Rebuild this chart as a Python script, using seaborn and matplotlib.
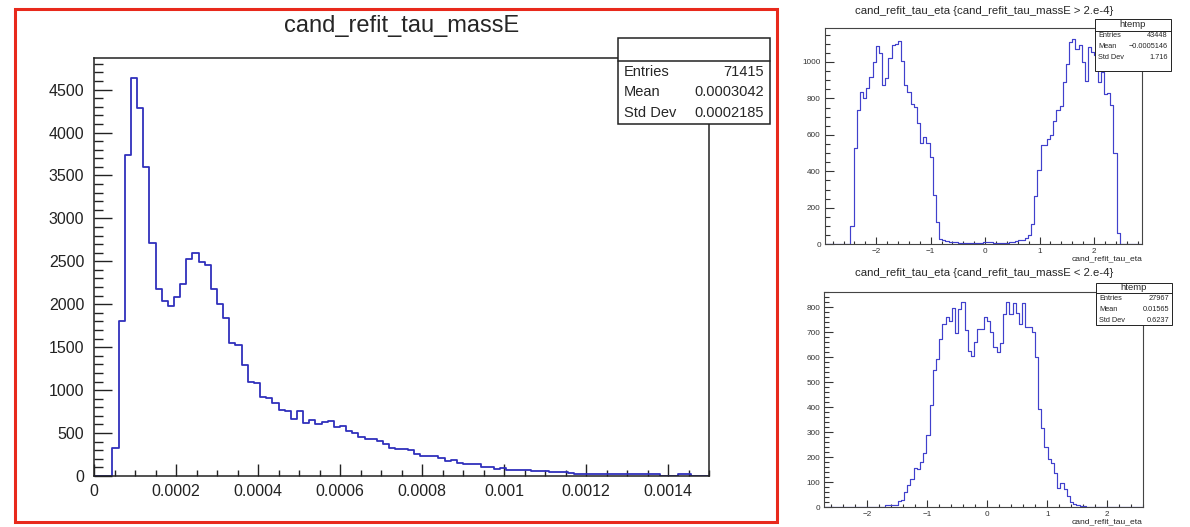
import numpy as np
import pandas as pd
import matplotlib
matplotlib.use("Agg")
import matplotlib.pyplot as plt
from matplotlib.patches import Rectangle
from matplotlib.lines import Line2D
from matplotlib.ticker import FixedLocator, FixedFormatter, MultipleLocator
import seaborn as sns

# ---------------- data ----------------
# cand_refit_tau_massE : 100 bins on [0, 0.0015]
mass_range = (0.0, 0.0015)
mass_counts = [
    0, 0, 0, 329, 1806, 3736, 4636, 4287, 3597, 2713,
    2178, 2038, 1985, 2090, 2241, 2523, 2601, 2488, 2457, 2178,
    2008, 1837, 1550, 1523, 1287, 1097, 1078, 922, 907, 845,
    767, 756, 667, 756, 612, 651, 605, 624, 636, 574,
    581, 523, 496, 450, 427, 434, 411, 374, 325, 312,
    318, 308, 258, 236, 234, 233, 207, 170, 182, 151,
    141, 141, 141, 101, 99, 83, 91, 74, 66, 66,
    66, 62, 54, 54, 50, 46, 43, 31, 27, 29,
    29, 29, 29, 28, 28, 27, 20, 19, 19, 19,
    19, 19, 0, 0, 0, 19, 19, 0, 0, 0,
]
mass_xticks = [0, 0.0002, 0.0004, 0.0006, 0.0008, 0.001, 0.0012, 0.0014]
mass_xticklabels = ["0", "0.0002", "0.0004", "0.0006", "0.0008", "0.001", "0.0012", "0.0014"]
mass_yticks = [0, 500, 1000, 1500, 2000, 2500, 3000, 3500, 4000, 4500]
mass_title = "cand_refit_tau_massE"
mass_stats = ["71415", "0.0003042", "0.0002185"]

# cand_refit_tau_eta with massE > 2e-4 : 100 bins
eta_hi_range = (-2.94, 2.88)
eta_hi_counts = (
    [0] * 8
    + [101, 527, 737, 837, 802, 859, 918, 1001, 1087, 1047,
       874, 912, 1019, 1095, 1098, 1113, 1004, 875, 835, 770,
       752, 663, 558, 590, 553, 479, 271, 120, 28]
    + [22, 18, 15, 13, 11, 9, 8, 7, 6, 6,
       5, 6, 8, 12, 14, 12, 9, 7, 6, 6,
       8, 10, 14, 18]
    + [22, 24, 37, 52, 114, 264, 405, 542, 547, 575,
       597, 678, 737, 757, 888, 990, 1109, 1128, 1073, 1093,
       999, 894, 1084, 1054, 1036, 890, 944, 826, 829, 763,
       498, 60]
    + [0] * 7
)
eta_hi_title = "cand_refit_tau_eta {cand_refit_tau_massE > 2.e-4}"
eta_hi_stats = ["43448", "\u22120.0005146", "1.716"]
eta_hi_yticks = [0, 200, 400, 600, 800, 1000]

# cand_refit_tau_eta with massE < 2e-4 : 100 bins
eta_lo_range = (-2.72, 2.60)
eta_lo_counts = (
    [0] * 17
    + [1, 1, 8, 8, 8, 10, 25, 31, 60, 91,
       113, 157, 155, 181, 219, 288, 411, 547, 591, 671,
       733, 759, 745, 797, 695, 791, 819, 707, 623, 605,
       659, 711, 711, 759]
    + [745, 699, 639, 621, 657, 772, 821, 772, 815, 775,
       731, 817, 719, 719, 699, 599, 395, 319, 243, 195,
       177, 137, 79, 97, 72, 47, 20, 13, 8, 4,
       4, 1, 1]
    + [0] * 16
)
eta_lo_title = "cand_refit_tau_eta {cand_refit_tau_massE < 2.e-4}"
eta_lo_stats = ["27967", "0.01565", "0.6237"]
eta_lo_yticks = [0, 100, 200, 300, 400, 500, 600, 700, 800]

eta_xticks = [-2, -1, 0, 1, 2]
eta_xticklabels = ["\u22122", "\u22121", "0", "1", "2"]
eta_xlabel = "cand_refit_tau_eta"
stats_labels = ["Entries", "Mean", "Std Dev"]
stats_name = "htemp"

# ---------------- style ----------------
sns.set_style("ticks")
plt.rcParams["font.family"] = ["Liberation Sans", "DejaVu Sans"]

W, H = 1190, 527
fig = plt.figure(figsize=(W / 100, H / 100), dpi=100)


def box(x0, y0, x1, y1):
    """Pixel box (origin top-left) -> figure fraction rect."""
    return [x0 / W, 1 - y1 / H, (x1 - x0) / W, (y1 - y0) / H]


def fx(x):
    return x / W


def fy(y):
    return 1 - y / H


def draw_hist(ax, rng, counts, color, lw):
    edges = np.linspace(rng[0], rng[1], len(counts) + 1)
    centers = 0.5 * (edges[:-1] + edges[1:])
    df = pd.DataFrame({"x": centers, "w": counts})
    sns.histplot(data=df, x="x", weights="w", bins=edges.tolist(), element="step",
                 fill=False, color=color, linewidth=lw, ax=ax)
    ax.set_xlim(*rng)
    ax.set_ylim(0, 1.05 * max(counts))
    ax.set_xlabel("")
    ax.set_ylabel("")


def style_frame(ax, frame_lw, frame_color):
    for s in ax.spines.values():
        s.set_visible(True)
        s.set_linewidth(frame_lw)
        s.set_color(frame_color)
        s.set_zorder(3)


def stats_box(x0, y0, x1, y1, yline, header, values, rows_y, fs, hfs, lw):
    fig.add_artist(Rectangle((fx(x0), fy(y1)), fx(x1 - x0), (y1 - y0) / H,
                             transform=fig.transFigure, facecolor="white",
                             edgecolor="#222222", linewidth=lw, zorder=4))
    fig.add_artist(Line2D([fx(x0), fx(x1)], [fy(yline), fy(yline)],
                          transform=fig.transFigure, color="#222222",
                          linewidth=lw, zorder=5))
    if header:
        fig.text(fx((x0 + x1) / 2), fy((y0 + yline) / 2), header, ha="center",
                 va="center", fontsize=hfs, zorder=6)
    padx = (x1 - x0) * 0.04
    for lab, val, yy in zip(stats_labels, values, rows_y):
        fig.text(fx(x0 + padx), fy(yy), lab, ha="left", va="center",
                 fontsize=fs, zorder=6)
        fig.text(fx(x1 - padx), fy(yy), val, ha="right", va="center",
                 fontsize=fs, zorder=6)


# ---------------- main histogram ----------------
ax_m = fig.add_axes(box(94, 58, 709, 476))
draw_hist(ax_m, mass_range, mass_counts, "#3030bc", 1.3)
style_frame(ax_m, 1.1, "#222222")
ax_m.xaxis.set_major_locator(FixedLocator(mass_xticks))
ax_m.xaxis.set_major_formatter(FixedFormatter(mass_xticklabels))
ax_m.xaxis.set_minor_locator(MultipleLocator(0.00005))
ax_m.yaxis.set_major_locator(FixedLocator(mass_yticks))
ax_m.yaxis.set_major_formatter(FixedFormatter([str(v) for v in mass_yticks]))
ax_m.yaxis.set_minor_locator(MultipleLocator(100))
ax_m.tick_params(axis="x", which="major", direction="in", length=9, width=1,
                 labelsize=11.5, pad=6, colors="#222222", top=False)
ax_m.tick_params(axis="x", which="minor", direction="in", length=4.5, width=1,
                 colors="#222222", top=False)
ax_m.tick_params(axis="y", which="major", direction="in", length=13, width=1,
                 labelsize=11.5, pad=7, colors="#222222", right=False)
ax_m.tick_params(axis="y", which="minor", direction="in", length=6.5, width=1,
                 colors="#222222", right=False)
fig.text(fx(402), fy(26), mass_title, ha="center", va="center", fontsize=17)
stats_box(618, 38, 770, 124, 61, "", mass_stats, [72, 92.5, 113], 10.5, 10.5, 1.1)

# red selection frame
fig.add_artist(Rectangle((fx(15), fy(522)), fx(777 - 15), (522 - 9) / H,
                         transform=fig.transFigure, fill=False,
                         edgecolor="#e8291c", linewidth=2.2, zorder=7))


# ---------------- eta histograms ----------------
def style_eta(ax, yticks, yminor):
    style_frame(ax, 0.8, "#444444")
    ax.xaxis.set_major_locator(FixedLocator(eta_xticks))
    ax.xaxis.set_major_formatter(FixedFormatter(eta_xticklabels))
    ax.xaxis.set_minor_locator(MultipleLocator(0.2))
    ax.yaxis.set_major_locator(FixedLocator(yticks))
    ax.yaxis.set_major_formatter(FixedFormatter([str(v) for v in yticks]))
    ax.yaxis.set_minor_locator(MultipleLocator(yminor))
    ax.tick_params(axis="x", which="major", direction="in", length=4.7,
                   width=0.8, labelsize=5.9, pad=2.5, colors="#333333", top=False)
    ax.tick_params(axis="x", which="minor", direction="in", length=2.4,
                   width=0.8, colors="#333333", top=False)
    ax.tick_params(axis="y", which="major", direction="in", length=6.8,
                   width=0.8, labelsize=5.9, pad=3, colors="#333333", right=False)
    ax.tick_params(axis="y", which="minor", direction="in", length=3.4,
                   width=0.8, colors="#333333", right=False)


ax_hi = fig.add_axes(box(825, 28.3, 1142, 244.3))
draw_hist(ax_hi, eta_hi_range, eta_hi_counts, "#4040cc", 0.85)
style_eta(ax_hi, eta_hi_yticks, 50)
fig.text(fx(984), fy(11), eta_hi_title, ha="center", va="center", fontsize=8.2)
fig.text(fx(1142), fy(258.5), eta_xlabel, ha="right", va="center", fontsize=6.1)
stats_box(1095, 19, 1171, 71, 30.7, stats_name, eta_hi_stats,
          [35.5, 46.7, 57.5], 5.3, 6.8, 0.7)

ax_lo = fig.add_axes(box(824.3, 291.7, 1143.3, 507.3))
draw_hist(ax_lo, eta_lo_range, eta_lo_counts, "#4040cc", 0.85)
style_eta(ax_lo, eta_lo_yticks, 20)
fig.text(fx(984), fy(273.5), eta_lo_title, ha="center", va="center", fontsize=8.2)
fig.text(fx(1142), fy(522), eta_xlabel, ha="right", va="center", fontsize=6.1)
stats_box(1096, 283, 1172, 325, 292.7, stats_name, eta_lo_stats,
          [298.5, 309.5, 320.5], 5.3, 6.8, 0.7)

fig.savefig("out.png", dpi=100, facecolor="white")
